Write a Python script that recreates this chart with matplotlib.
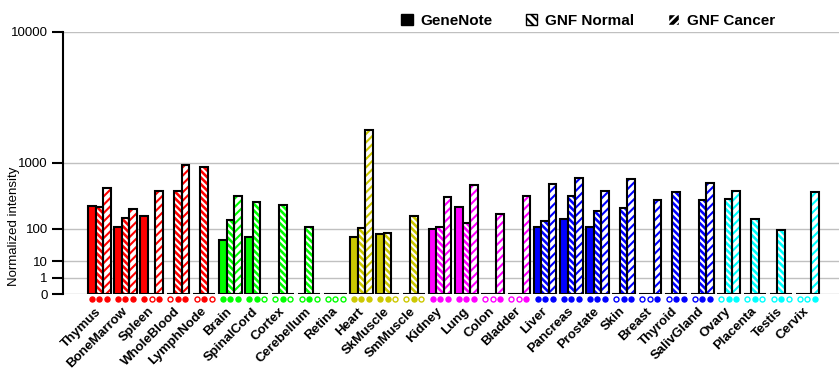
import numpy as np
import matplotlib
matplotlib.use("Agg")
import matplotlib.pyplot as plt
from matplotlib.patches import Patch

plt.rcParams['font.family'] = ['Liberation Sans', 'DejaVu Sans']
plt.rcParams['hatch.linewidth'] = 1.5

tissues = ["Thymus", "BoneMarrow", "Spleen", "WholeBlood", "LymphNode",
           "Brain", "SpinalCord", "Cortex", "Cerebellum", "Retina",
           "Heart", "SkMuscle", "SmMuscle",
           "Kidney", "Lung", "Colon", "Bladder",
           "Liver", "Pancreas", "Prostate", "Skin", "Breast", "Thyroid", "SalivGland",
           "Ovary", "Placenta", "Testis", "Cervix"]

genenote = [268, 109, 179, 0, 0,
            53, 64, 0, 0, 0,
            65, 77, 0,
            98, 258, 0, 0,
            107, 160, 109, 0, 0, 0, 0,
            0, 0, 0, 0]
gnf_normal = [255, 165, 0, 455, 910,
              151, 310, 281, 109, 0,
              105, 81, 179,
              109, 132, 0, 0,
              144, 383, 221, 251, 0, 436, 336,
              345, 158, 93, 0]
gnf_cancer = [497, 239, 455, 951, 0,
              386, 0, 0, 0, 0,
              2110, 0, 0,
              373, 545, 195, 383,
              561, 674, 455, 650, 336, 0, 583,
              455, 0, 0, 436]

# presence calls shown under each group (1 = filled, 0 = open)
present = ["111", "111", "101", "011", "010",
           "111", "110", "010", "010", "000",
           "111", "110", "010",
           "111", "111", "001", "001",
           "111", "111", "111", "011", "001", "011", "011",
           "011", "010", "010", "001"]

group_colors = (["#FF0000"] * 5 + ["#00FF00"] * 5 + ["#CCC800"] * 3 +
                ["#FF00FF"] * 4 + ["#0000FF"] * 7 + ["#00FFFF"] * 4)

yticks = [0, 1, 10, 100, 1000, 10000]

P = 0.30103


def fwd(v):
    return np.power(np.clip(v, 0, None), P)


def inv(v):
    return np.power(np.clip(v, 0, None), 1 / P)


fig = plt.figure(figsize=(8.4, 3.85), dpi=100)
ax = fig.add_axes([0.075, 0.2356, 0.9238, 0.6821])
ax.set_yscale('function', functions=(fwd, inv))

x = np.arange(len(tissues))
w = 0.286

for i in range(len(tissues)):
    c = group_colors[i]
    # GeneNote: solid
    ax.bar(x[i] - w, genenote[i], w, color=c, edgecolor='black', linewidth=1.5, zorder=3)
    # GNF Normal: colour with white stripes
    ax.bar(x[i], gnf_normal[i], w, color=c, edgecolor='white', linewidth=0,
           hatch='\\\\\\\\\\', zorder=3)
    ax.bar(x[i], gnf_normal[i], w, fill=False, edgecolor='black', linewidth=1.5, zorder=4)
    # GNF Cancer: white with coloured stripes
    ax.bar(x[i] + w, gnf_cancer[i], w, color='white', edgecolor=c, linewidth=0,
           hatch='////', zorder=3)
    ax.bar(x[i] + w, gnf_cancer[i], w, fill=False, edgecolor='black', linewidth=1.5, zorder=4)

    for j, flag in enumerate(present[i]):
        ax.plot(x[i] + (j - 1) * w, -0.017, marker='o', markersize=3.6,
                markeredgewidth=1, color=c,
                markerfacecolor=c if flag == "1" else 'white',
                transform=ax.get_xaxis_transform(), clip_on=False, zorder=5)

ax.set_xlim(-1.383, 28.21)
ax.set_ylim(0, 10000)
ax.set_yticks(yticks)
ax.set_yticklabels([str(t) for t in yticks], fontsize=9.5)
ax.yaxis.grid(True, color='#C0C0C0', linewidth=1, zorder=0)
ax.set_axisbelow(True)
ax.tick_params(axis='y', length=8, width=1.5, pad=3)
ax.tick_params(axis='x', length=0, pad=11)
ax.set_xticks(x)
ax.set_xticklabels(tissues, rotation=45, ha='right', va='center',
                   rotation_mode='anchor', fontsize=9.5, fontweight='bold')
ax.set_ylabel("Normalized intensity", fontsize=9.5)
ax.yaxis.set_label_coords(-0.055, 0.26)

for s in ['top', 'right', 'bottom']:
    ax.spines[s].set_visible(False)
ax.spines['left'].set_linewidth(1.5)

handles = [Patch(facecolor='black', edgecolor='black', label='GeneNote'),
           Patch(facecolor='white', edgecolor='black', hatch='\\\\\\\\', label='GNF Normal'),
           Patch(facecolor='black', edgecolor='white', hatch='////', label='GNF Cancer')]
fig.legend(handles=handles, loc='center', bbox_to_anchor=(0.7, 0.945), ncol=3,
           frameon=False, handlelength=0.75, handleheight=0.75, handletextpad=0.5,
           columnspacing=2.2, prop={'size': 11, 'weight': 'bold'})

fig.savefig("out.png", dpi=100)
